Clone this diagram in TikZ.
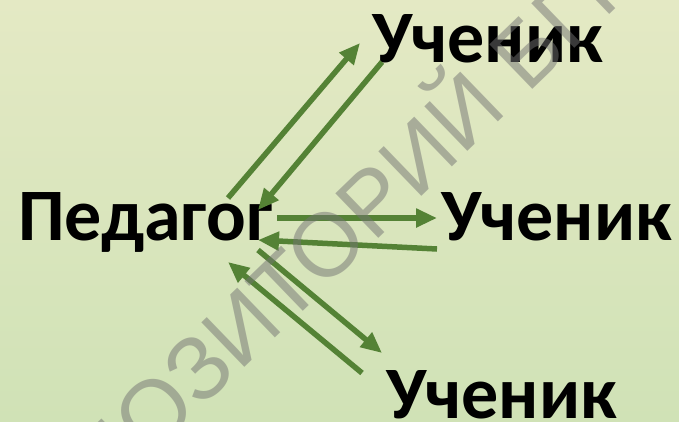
\documentclass[tikz,border=0pt]{standalone}
\usepackage{fontspec}
\setmainfont{Carlito}
\newfontfamily\wmfont{Liberation Sans}
\usetikzlibrary{arrows.meta}
\definecolor{bgtop}{RGB}{228,233,196}
\definecolor{bgbot}{RGB}{208,226,182}
\definecolor{arrowgreen}{RGB}{84,130,53}

\begin{document}
\begin{tikzpicture}[x=1pt,y=-1pt]
    \useasboundingbox (0,0) rectangle (679,421);
    \shade [top color=bgtop,bottom color=bgbot] (0,0) rectangle (679,421);

    \begin{scope}[every node/.style={inner sep=0pt,anchor=base west,
        font=\fontsize{74}{74}\selectfont\bfseries}]
      \begin{scope}
        \clip (0,150) rectangle (273,300);
        \node (ped) at (18,240) {Педагог};
      \end{scope}
      \node (st1) at (372,62) {Ученик};
      \node (st2) at (441,240) {Ученик};
      \node (st3) at (386,418) {Ученик};
    \end{scope}

    \begin{scope}[>={Triangle[length=21pt,width=18pt]},
        every edge/.style={draw=arrowgreen,fill=arrowgreen,line width=5.5pt}]
      \path [->] ([shift={(210,-42)}]ped.base west) edge ([shift={(-12,-19)}]st1.base west);
      \path [->] ([shift={(10,0)}]st1.base west) edge ([shift={(240,-30)}]ped.base west);
      \path [->] ([shift={(259,-22)}]ped.base west) edge ([shift={(-4,-22)}]st2.base west);
      \path [->] ([shift={(-4,9)}]st2.base west) edge ([shift={(240,0)}]ped.base west);
      \path [->] ([shift={(240,10)}]ped.base west) edge ([shift={(-4,-65)}]st3.base west);
      \path [->] ([shift={(-24,-45)}]st3.base west) edge ([shift={(210,22)}]ped.base west);
    \end{scope}

    % watermark
    \node [inner sep=0pt,anchor=base west,rotate=44,text=black!55,text opacity=.5,
      font=\wmfont\fontsize{90}{90}\selectfont] (wm) at (17,587) {РЕПОЗИТОРИЙ БГПУ};
\end{tikzpicture}
\end{document}
